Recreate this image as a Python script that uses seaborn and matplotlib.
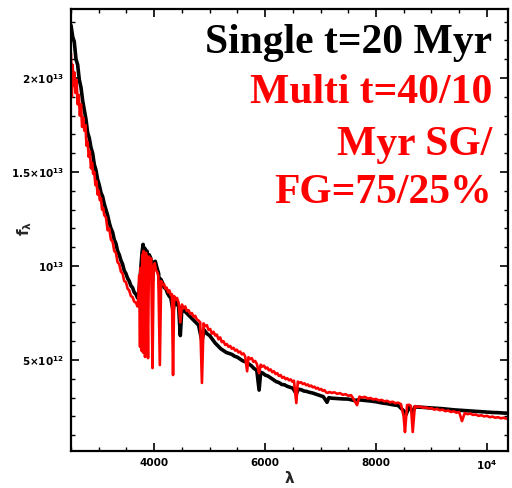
import matplotlib
matplotlib.use("Agg")
import matplotlib.pyplot as plt
import seaborn as sns
import pandas as pd
from matplotlib.ticker import FixedLocator, MultipleLocator

# ---------------- data (flux in units of 1e12) ----------------
black_wl = [2500, 2530, 2560, 2590, 2620, 2650, 2680, 2710, 2740, 2770, 2800, 2830, 2860, 2890,
            2920, 2950, 2980, 3010, 3040, 3070, 3100, 3130, 3160, 3190, 3220, 3250, 3280, 3310,
            3340, 3370, 3400, 3430, 3460, 3490, 3520, 3550, 3580, 3610, 3640, 3670, 3700, 3720,
            3740, 3760, 3780, 3800, 3815, 3830, 3850, 3870, 3890, 3910, 3940, 3970, 3990, 4020,
            4050, 4080, 4102, 4120, 4150, 4180, 4210, 4240, 4270, 4300, 4340, 4370, 4400, 4440,
            4471, 4500, 4550, 4600, 4650, 4700, 4750, 4800, 4861, 4900, 4950, 5000, 5050, 5100,
            5150, 5200, 5250, 5300, 5350, 5400, 5450, 5500, 5550, 5600, 5650, 5700, 5750, 5800,
            5850, 5892, 5920, 5960, 6000, 6050, 6100, 6150, 6200, 6250, 6300, 6350, 6400, 6450,
            6500, 6563, 6600, 6650, 6700, 6750, 6800, 6850, 6900, 6950, 7000, 7050, 7117, 7150,
            7200, 7300, 7400, 7500, 7600, 7700, 7800, 7900, 8000, 8100, 8200, 8300, 8400, 8498,
            8542, 8600, 8662, 8700, 8800, 8900, 9000, 9100, 9200, 9300, 9400, 9500, 9600, 9700,
            9800, 9900, 10000, 10100, 10200, 10300, 10400, 10450]
black_flux = [22.8, 22.2, 21.9, 21.0, 20.7, 19.9, 19.5, 18.8, 18.3, 17.8, 17.1, 16.8, 16.3, 16.0,
              15.4, 15.1, 14.6, 14.3, 13.9, 13.7, 13.3, 13.0, 12.7, 12.3, 12.0, 11.8, 11.4, 11.2,
              10.8, 10.6, 10.3, 10.1, 9.75, 9.6, 9.35, 9.2, 8.95, 8.85, 8.6, 8.5, 8.3, 8.4,
              9.2, 9.9, 10.7, 11.15, 10.6, 10.95, 10.5, 10.8, 9.5, 10.6, 10.4, 9.2, 10.2, 10.25,
              9.9, 9.6, 8.6, 9.3, 9.1, 8.85, 8.8, 8.55, 8.4, 8.3, 7.6, 8.15, 8.0, 7.85,
              6.3, 7.8, 7.6, 7.45, 7.3, 7.15, 7.0, 6.85, 6.0, 6.6, 6.4, 6.3, 6.1, 5.9,
              5.75, 5.6, 5.5, 5.4, 5.35, 5.3, 5.2, 5.15, 5.05, 4.95, 4.9, 4.8, 4.7, 4.55,
              4.45, 3.4, 4.35, 4.3, 4.2, 4.15, 4.05, 3.95, 3.85, 3.8, 3.7, 3.68, 3.6, 3.55,
              3.5, 3.2, 3.45, 3.42, 3.35, 3.33, 3.28, 3.25, 3.2, 3.15, 3.1, 3.05, 2.75, 3.0,
              2.97, 2.95, 2.93, 2.92, 2.85, 2.88, 2.85, 2.82, 2.78, 2.72, 2.68, 2.62, 2.58, 2.3,
              2.1, 2.52, 2.2, 2.5, 2.49, 2.47, 2.45, 2.43, 2.41, 2.38, 2.35, 2.33, 2.31, 2.29,
              2.27, 2.25, 2.23, 2.21, 2.2, 2.18, 2.17, 2.16]

red_wl = [2500, 2515, 2530, 2545, 2560, 2580, 2600, 2620, 2640, 2660, 2680, 2700, 2720, 2740,
          2760, 2780, 2800, 2820, 2840, 2860, 2880, 2900, 2920, 2940, 2960, 2980, 3000, 3020,
          3040, 3060, 3080, 3100, 3130, 3160, 3190, 3220, 3250, 3280, 3310, 3340, 3370, 3400,
          3430, 3460, 3490, 3520, 3550, 3580, 3610, 3640, 3670, 3700, 3715, 3730, 3745, 3755,
          3770, 3785, 3798, 3810, 3822, 3835, 3850, 3870, 3889, 3905, 3925, 3945, 3970, 3990,
          4010, 4030, 4050, 4075, 4102, 4125, 4150, 4175, 4200, 4225, 4250, 4275, 4300, 4320,
          4340, 4360, 4385, 4410, 4440, 4471, 4500, 4530, 4560, 4590, 4620, 4650, 4680, 4710,
          4740, 4770, 4800, 4830, 4861, 4890, 4920, 4950, 4980, 5010, 5040, 5070, 5100, 5130,
          5160, 5190, 5220, 5250, 5280, 5310, 5340, 5370, 5400, 5430, 5460, 5490, 5520, 5550,
          5580, 5610, 5640, 5676, 5700, 5730, 5760, 5790, 5820, 5850, 5892, 5920, 5950, 5980,
          6010, 6040, 6070, 6100, 6130, 6160, 6190, 6220, 6250, 6280, 6310, 6340, 6370, 6400,
          6430, 6460, 6490, 6520, 6563, 6590, 6620, 6650, 6680, 6710, 6740, 6770, 6800, 6830,
          6860, 6890, 6920, 6950, 6980, 7010, 7040, 7070, 7100, 7130, 7160, 7200, 7250, 7300,
          7350, 7400, 7450, 7500, 7550, 7600, 7658, 7700, 7750, 7800, 7850, 7900, 7950, 8000,
          8050, 8100, 8150, 8200, 8250, 8300, 8350, 8400, 8450, 8498, 8522, 8560, 8600, 8630,
          8662, 8700, 8750, 8800, 8850, 8900, 8950, 9000, 9050, 9100, 9150, 9200, 9250, 9300,
          9350, 9400, 9450, 9500, 9550, 9600, 9650, 9700, 9750, 9800, 9850, 9900, 9950, 10000,
          10050, 10100, 10150, 10200, 10250, 10300, 10350, 10400, 10450]
red_flux = [21.3, 19.0, 20.7, 19.6, 20.3, 19.2, 19.9, 18.6, 19.1, 18.0, 18.6, 17.4, 17.9, 17.2,
            17.5, 16.4, 16.6, 15.8, 16.1, 15.2, 15.5, 14.9, 15.0, 14.3, 14.5, 13.8, 14.0, 13.5,
            13.6, 13.0, 13.1, 12.7, 12.6, 11.9, 12.0, 11.4, 11.3, 10.8, 10.7, 10.2, 10.1, 9.7,
            9.6, 9.2, 9.15, 8.8, 8.7, 8.4, 8.35, 8.1, 8.05, 7.85, 8.3, 9.5, 5.7, 9.9,
            5.5, 10.6, 5.4, 10.8, 10.3, 5.16, 10.7, 10.4, 5.1, 10.5, 10.2, 10.4, 4.57, 10.0,
            10.15, 9.8, 9.7, 9.5, 4.73, 9.2, 9.0, 9.05, 8.8, 8.85, 8.6, 8.7, 8.45, 8.5,
            4.2, 8.4, 8.2, 8.3, 8.05, 7.0, 7.95, 7.75, 7.85, 7.6, 7.65, 7.45, 7.5, 7.3,
            7.35, 7.15, 7.1, 7.0, 3.78, 6.95, 6.8, 6.85, 6.6, 6.65, 6.4, 6.5, 6.3, 6.35,
            6.1, 6.2, 5.95, 6.0, 5.8, 5.85, 5.7, 5.75, 5.6, 5.65, 5.5, 5.55, 5.4, 5.45,
            5.3, 5.35, 5.2, 4.4, 5.15, 5.05, 5.1, 4.9, 4.95, 4.8, 4.3, 4.75, 4.65, 4.7,
            4.55, 4.6, 4.45, 4.5, 4.35, 4.4, 4.25, 4.3, 4.15, 4.2, 4.05, 4.1, 3.98, 4.03,
            3.92, 3.97, 3.85, 3.9, 2.71, 3.85, 3.78, 3.82, 3.72, 3.76, 3.66, 3.7, 3.6, 3.64,
            3.55, 3.58, 3.48, 3.52, 3.42, 3.46, 3.36, 3.4, 3.28, 3.25, 3.3, 3.25, 3.28, 3.2,
            3.24, 3.15, 3.18, 3.1, 3.13, 2.9, 2.6, 3.05, 3.0, 3.04, 2.95, 2.98, 2.9, 2.93,
            2.85, 2.88, 2.8, 2.83, 2.75, 2.78, 2.7, 2.73, 2.65, 2.0, 1.17, 2.6, 2.62, 2.55,
            1.17, 2.55, 2.5, 2.52, 2.46, 2.48, 2.42, 2.44, 2.36, 2.4, 2.33, 2.36, 2.28, 2.31,
            2.24, 2.27, 2.2, 2.23, 1.75, 2.18, 2.12, 2.15, 2.08, 2.1, 2.03, 2.06, 2.0, 2.03,
            1.96, 1.99, 1.93, 1.96, 1.9, 1.93, 1.88, 1.91, 1.87]

xtick_values = [4000, 6000, 8000, 10000]
xtick_labels = ["4000", "6000", "8000", r"$10^{4}$"]
ytick_values = [5e12, 1e13, 1.5e13, 2e13]
ytick_labels = [r"$5{\times}10^{12}$", r"$10^{13}$", r"$1.5{\times}10^{13}$", r"$2{\times}10^{13}$"]

title_lines = ["Single t=20 Myr", "Multi t=40/10", "Myr SG/", "FG=75/25%"]
title_colors = ["black", "red", "red", "red"]

FLUX_UNIT = 1e12

# ---------------- plotting ----------------
sns.set_style("ticks")
plt.rcParams["font.family"] = ["DejaVu Sans"]
plt.rcParams["mathtext.fontset"] = "dejavusans"
plt.rcParams["mathtext.default"] = "bf"

black_df = pd.DataFrame({"wl": black_wl, "flux": [v * FLUX_UNIT for v in black_flux]})
red_df = pd.DataFrame({"wl": red_wl, "flux": [v * FLUX_UNIT for v in red_flux]})

fig = plt.figure(figsize=(5.12, 4.88), dpi=100)
ax = fig.add_axes([71 / 512, 1 - 451 / 488, (508 - 71) / 512, (451 - 9) / 488])

sns.lineplot(data=black_df, x="wl", y="flux", ax=ax, color="black", lw=2.6,
             estimator=None, sort=False)
sns.lineplot(data=red_df, x="wl", y="flux", ax=ax, color="red", lw=1.9,
             estimator=None, sort=False)

ax.set_xlim(2500, 10380)
ax.set_ylim(1.6e11, 2.367e13)

ax.xaxis.set_major_locator(FixedLocator(xtick_values))
ax.set_xticklabels(xtick_labels)
ax.xaxis.set_minor_locator(MultipleLocator(500))
ax.yaxis.set_major_locator(FixedLocator(ytick_values))
ax.set_yticklabels(ytick_labels)
ax.yaxis.set_minor_locator(MultipleLocator(1e12))

ax.tick_params(which="both", direction="in", top=True, right=True, colors="black")
ax.tick_params(which="major", length=6, width=1.2, labelsize=7.5, pad=5)
ax.tick_params(which="minor", length=3, width=1.0)
for lab in ax.get_xticklabels() + ax.get_yticklabels():
    lab.set_fontweight("bold")

for sp in ax.spines.values():
    sp.set_linewidth(1.6)
    sp.set_color("black")
    sp.set_visible(True)

ax.set_xlabel("")
ax.set_ylabel("")
fig.text(290 / 512, 1 - 478 / 488, r"$\lambda$", fontsize=11, ha="center", va="center")
fig.text(25 / 512, 1 - 228 / 488, r"$f_{\lambda}$", fontsize=11, ha="center", va="center",
         rotation=90)

baselines = [53, 103, 155, 203]
for txt, col, yb in zip(title_lines, title_colors, baselines):
    fig.text(492 / 512, 1 - yb / 488, txt, color=col, ha="right", va="baseline",
             fontsize=30, fontweight="bold", family=["Liberation Serif", "DejaVu Serif"])

fig.savefig("out.png", dpi=100)
